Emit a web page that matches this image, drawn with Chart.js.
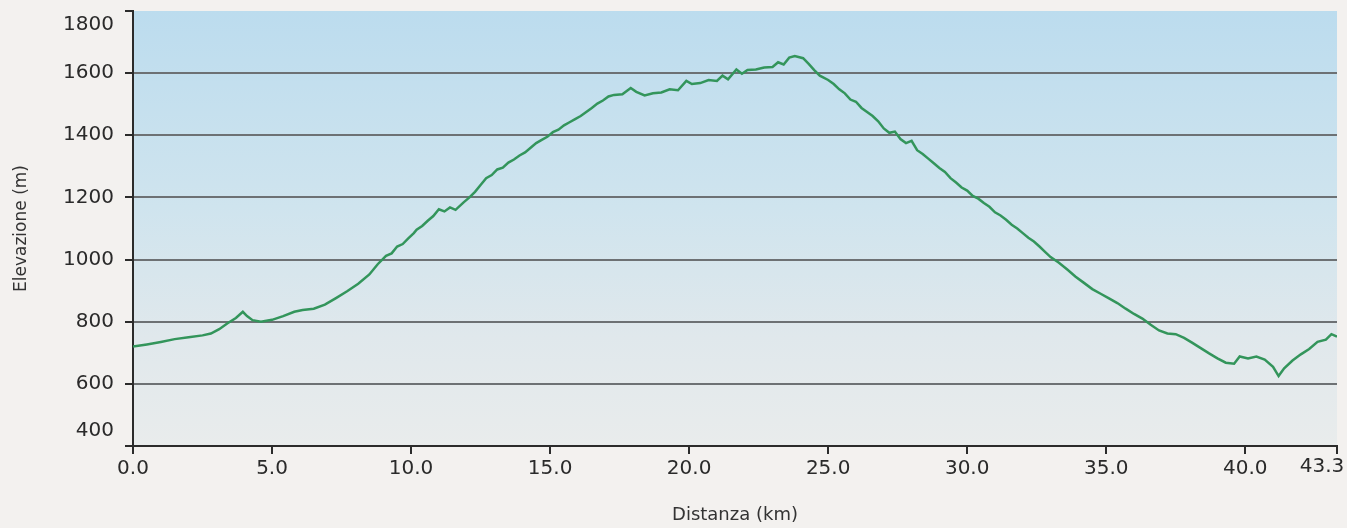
<!DOCTYPE html>
<html>
<head>
<meta charset="utf-8">
<script src="https://cdn.jsdelivr.net/npm/chart.js@4.4.0/dist/chart.umd.min.js"></script>
<style>
    html, body { margin: 0; padding: 0; background: #f3f1ef; }
    #wrap { width: 1347px; height: 528px; position: relative; }
</style>
</head>
<body>
<div id="wrap"><canvas id="profilo"></canvas></div>
<script>
const distanze = [
    0.0, 0.5, 1.0, 1.5, 2.0, 2.5, 2.8, 3.1, 3.4, 3.7, 3.95, 4.1, 4.3, 4.6, 5.0, 5.4, 5.8, 6.1, 6.5, 6.9,
    7.3, 7.7, 8.1, 8.5, 8.8, 9.1, 9.3, 9.5, 9.7, 9.9, 10.1, 10.2, 10.4, 10.6, 10.8, 11.0, 11.2, 11.4, 11.6, 11.9,
    12.1, 12.3, 12.5, 12.7, 12.9, 13.1, 13.3, 13.5, 13.7, 13.9, 14.1, 14.3, 14.5, 14.7, 14.9, 15.1, 15.3, 15.5, 15.7, 15.9,
    16.1, 16.3, 16.5, 16.7, 16.9, 17.1, 17.3, 17.6, 17.9, 18.1, 18.4, 18.7, 19.0, 19.3, 19.6, 19.9, 20.1, 20.4, 20.7, 21.0,
    21.2, 21.4, 21.7, 21.9, 22.1, 22.4, 22.7, 23.0, 23.2, 23.4, 23.6, 23.8, 24.1, 24.3, 24.5, 24.7, 25.0, 25.2, 25.4, 25.6,
    25.8, 26.0, 26.2, 26.4, 26.6, 26.8, 27.0, 27.2, 27.4, 27.6, 27.8, 28.0, 28.2, 28.4, 28.6, 28.8, 29.0, 29.2, 29.4, 29.6,
    29.8, 30.0, 30.2, 30.4, 30.6, 30.8, 31.0, 31.2, 31.4, 31.6, 31.8, 32.0, 32.2, 32.4, 32.6, 32.8, 33.0, 33.3, 33.6, 33.9,
    34.2, 34.5, 34.8, 35.1, 35.4, 35.7, 36.0, 36.3, 36.6, 36.9, 37.2, 37.5, 37.8, 38.1, 38.4, 38.7, 39.0, 39.3, 39.6, 39.8,
    40.1, 40.4, 40.7, 41.0, 41.2, 41.4, 41.7, 42.0, 42.3, 42.6, 42.9, 43.1, 43.3
];
const elevazioni = [
    720, 727, 735, 744, 750, 756, 762, 776, 795, 812, 832, 818, 805, 800, 806, 818, 832, 838, 842, 855,
    876, 898, 922, 952, 985, 1012, 1020, 1042, 1050, 1068, 1085, 1096, 1108, 1125, 1140, 1162, 1155, 1168, 1160, 1185,
    1200, 1218, 1240, 1262, 1272, 1290, 1296, 1312, 1322, 1335, 1345, 1360, 1375, 1385, 1395, 1410, 1418, 1432, 1442, 1452,
    1462, 1475, 1488, 1502, 1512, 1525, 1530, 1532, 1552, 1540, 1528, 1535, 1538, 1548, 1545, 1575, 1565, 1568, 1578, 1575,
    1592, 1580, 1612, 1598, 1610, 1612, 1618, 1620, 1635, 1628, 1650, 1655, 1648, 1630, 1610, 1592, 1578, 1565, 1548, 1535,
    1515, 1508, 1488, 1475, 1462, 1445, 1422, 1408, 1412, 1388, 1375, 1382, 1352, 1340, 1325, 1310, 1295, 1282, 1262, 1248,
    1232, 1222, 1205, 1196, 1182, 1170, 1152, 1142, 1128, 1112, 1100, 1085, 1070, 1058, 1042, 1025, 1008, 990, 968, 945,
    925, 905, 890, 875, 860, 842, 825, 810, 790, 772, 762, 760, 748, 732, 715, 698, 682, 668, 665, 688,
    682, 688, 678, 655, 625, 650, 675, 695, 712, 735, 742, 760, 752
];
const xTicks = [0, 5, 10, 15, 20, 25, 30, 35, 40, 43.3];
const yMin = 400;
const yMax = 1800;
const yStep = 200;

const puntiProfilo = distanze.map((d, i) => ({ x: d, y: elevazioni[i] }));

const TEXT_COLOR = "#2a2a2a";
const AXIS_COLOR = "#2b2b2b";
const GRID_COLOR = "#6d7174";
const tickFont = { family: "DejaVu Sans", size: 20 };

// sfondo sfumato azzurro -> grigio chiaro dentro l'area del grafico
const sfondoPlugin = {
    id: "sfondo",
    beforeDraw(chart) {
        const { ctx, chartArea: a } = chart;
        const g = ctx.createLinearGradient(0, a.top, 0, a.bottom);
        g.addColorStop(0, "#bcdcee");
        g.addColorStop(0.45, "#cfe4ee");
        g.addColorStop(0.75, "#e0e8ec");
        g.addColorStop(1, "#e9ecec");
        ctx.save();
        ctx.fillStyle = g;
        ctx.fillRect(a.left, a.top, a.right - a.left, a.bottom - a.top);
        ctx.restore();
    }
};

// etichette agli estremi spostate verso l'interno come nell'originale
const estremiPlugin = {
    id: "estremi",
    afterDraw(chart) {
        const { ctx, scales } = chart;
        const y = scales.y, x = scales.x;
        ctx.save();
        ctx.font = tickFont.size + "px " + tickFont.family;
        ctx.fillStyle = TEXT_COLOR;
        ctx.textAlign = "right";
        ctx.textBaseline = "middle";
        const lx = y.right - 19;
        ctx.fillText(String(yMax), lx, y.getPixelForValue(yMax) + 14);
        ctx.fillText(String(yMin), lx, y.getPixelForValue(yMin) - 15);
        const last = xTicks[xTicks.length - 1];
        ctx.textAlign = "center";
        ctx.textBaseline = "top";
        ctx.fillText(last.toFixed(1), x.getPixelForValue(last) - 15, x.top + 11);
        ctx.restore();
    }
};

new Chart(document.getElementById("profilo"), {
    type: "line",
    data: {
        datasets: [{
            data: puntiProfilo,
            borderColor: "#33955b",
            borderWidth: 2.5,
            pointRadius: 0,
            tension: 0,
            fill: false
        }]
    },
    options: {
        responsive: true,
        maintainAspectRatio: false,
        animation: false,
        layout: { padding: { top: 11, right: 10, left: 0, bottom: 0 } },
        plugins: {
            legend: { display: false },
            tooltip: { enabled: false }
        },
        scales: {
            x: {
                type: "linear",
                min: 0,
                max: 43.3,
                afterBuildTicks: scale => { scale.ticks = xTicks.map(v => ({ value: v })); },
                afterFit: scale => { scale.height = 82; scale.paddingRight = 0; },
                ticks: {
                    autoSkip: false,
                    maxRotation: 0,
                    padding: 3,
                    color: TEXT_COLOR,
                    font: tickFont,
                    callback: v => (v === xTicks[xTicks.length - 1] ? "" : Number(v).toFixed(1))
                },
                grid: {
                    drawOnChartArea: false,
                    drawTicks: true,
                    tickLength: 8,
                    color: AXIS_COLOR,
                    lineWidth: 2
                },
                border: { color: AXIS_COLOR, width: 2 },
                title: {
                    display: true,
                    text: "Distanza (km)",
                    color: "#333333",
                    font: { family: "DejaVu Sans", size: 18 },
                    padding: { top: 0, bottom: 2 }
                }
            },
            y: {
                min: yMin,
                max: yMax,
                afterFit: scale => { scale.width = 133; scale.paddingTop = 0; scale.paddingBottom = 0; },
                ticks: {
                    stepSize: yStep,
                    padding: 11,
                    color: TEXT_COLOR,
                    font: tickFont,
                    callback: v => (v === yMin || v === yMax ? "" : String(v))
                },
                grid: {
                    color: c => (c.tick && (c.tick.value === yMax || c.tick.value === yMin) ? "rgba(0,0,0,0)" : GRID_COLOR),
                    tickColor: AXIS_COLOR,
                    lineWidth: 2,
                    tickLength: 8
                },
                border: { color: AXIS_COLOR, width: 2 },
                title: {
                    display: true,
                    text: "Elevazione (m)",
                    color: "#333333",
                    font: { family: "DejaVu Sans", size: 17 },
                    padding: { top: 11, bottom: 0 }
                }
            }
        }
    },
    plugins: [sfondoPlugin, estremiPlugin]
});
</script>
</body>
</html>
